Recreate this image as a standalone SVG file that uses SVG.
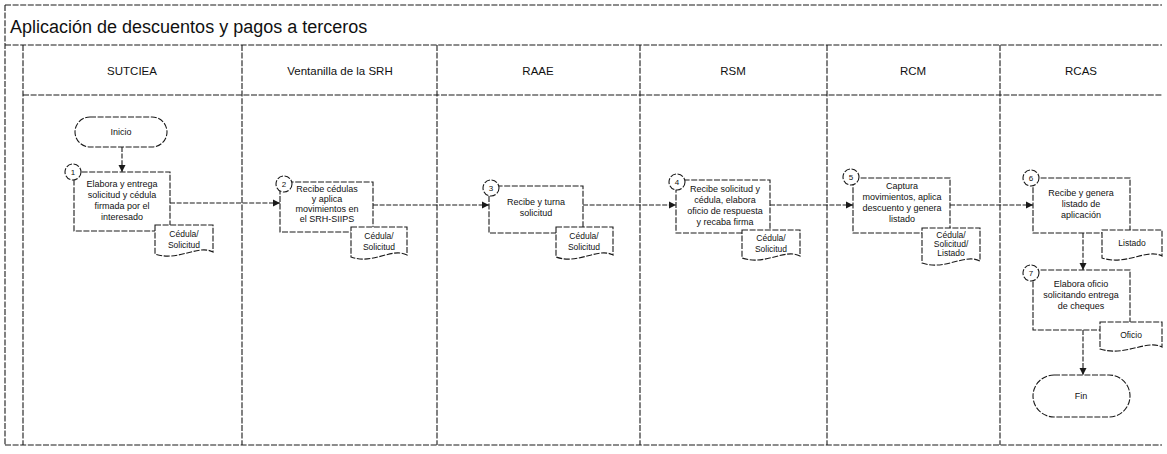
<svg xmlns="http://www.w3.org/2000/svg" width="1167" height="454" viewBox="0 0 1167 454">
<style>
.ln{stroke:#1a1a1a;stroke-width:1.1;fill:none;stroke-dasharray:6 1.6}
.sh{stroke:#1a1a1a;stroke-width:1.1;fill:#fff;stroke-dasharray:6 1.6}
.cn{stroke:#1a1a1a;stroke-width:1.1;fill:none;stroke-dasharray:5 1.6}
.t{font-family:"Liberation Sans",Arial,sans-serif;font-size:9px;fill:#111;text-anchor:middle}
.d{font-family:"Liberation Sans",Arial,sans-serif;font-size:8.5px;fill:#111;text-anchor:middle}
.h{font-family:"Liberation Sans",Arial,sans-serif;font-size:11.5px;fill:#111;text-anchor:middle}
.n{font-family:"Liberation Sans",Arial,sans-serif;font-size:8px;fill:#111;text-anchor:middle}
</style>
<defs>
<marker id="ah" markerWidth="8" markerHeight="8" refX="7" refY="4" orient="auto" markerUnits="userSpaceOnUse">
<path d="M0,0.5 L7,4 L0,7.5 Z" fill="#1a1a1a"/>
</marker>
</defs>
<rect width="1167" height="454" fill="#fff"/>
<g id="frame">
<path class="ln" d="M5,5 H1162 M5,45 H1162 M23,95 H1162 M5,5 V445 M5,445 H1162"/>
<path class="ln" d="M23,45 V445 M242,45 V445 M437,45 V445 M640,45 V445 M827,45 V445 M1000,45 V445"/>
<text x="10" y="33" style="font-family:'Liberation Sans',Arial,sans-serif;font-size:18px;fill:#111">Aplicación de descuentos y pagos a terceros</text>
<text class="h" x="132" y="75">SUTCIEA</text>
<text class="h" x="340" y="75">Ventanilla de la SRH</text>
<text class="h" x="538" y="75">RAAE</text>
<text class="h" x="733" y="75">RSM</text>
<text class="h" x="913" y="75">RCM</text>
<text class="h" x="1081" y="75">RCAS</text>
</g>
<g id="connectors">
<path class="cn" marker-end="url(#ah)" d="M122,147 V172"/>
<path class="cn" marker-end="url(#ah)" d="M170,203 H280"/>
<path class="cn" marker-end="url(#ah)" d="M373,205 H489"/>
<path class="cn" marker-end="url(#ah)" d="M583,205 H676"/>
<path class="cn" marker-end="url(#ah)" d="M770,205 H853"/>
<path class="cn" marker-end="url(#ah)" d="M950,205 H1033"/>
<path class="cn" marker-end="url(#ah)" d="M1083,233 V270"/>
<path class="cn" marker-end="url(#ah)" d="M1083,330 V375"/>
</g>
<g id="inicio">
<rect class="sh" x="75" y="117" width="92" height="30" rx="15"/>
<text class="t" x="121" y="135">Inicio</text>
</g>
<g id="step1">
<rect class="sh" x="74" y="172" width="96" height="59"/>
<circle class="sh" cx="73" cy="172" r="8"/><text class="n" x="73" y="175">1</text>
<text class="t" x="122" y="187">Elabora y entrega</text>
<text class="t" x="122" y="198">solicitud y cédula</text>
<text class="t" x="122" y="209">firmada por el</text>
<text class="t" x="122" y="220">interesado</text>
</g>
<g id="doc1">
<path class="sh" d="M155,225 H213 V252 C198,244 178,262 155,254 Z"/>
<text class="d" x="184" y="237">Cédula/</text>
<text class="d" x="184" y="248">Solicitud</text>
</g>
<g id="step2">
<rect class="sh" x="280" y="182" width="93" height="50"/>
<circle class="sh" cx="284" cy="184" r="8"/><text class="n" x="284" y="187">2</text>
<text class="t" x="327" y="192">Recibe cédulas</text>
<text class="t" x="327" y="202">y aplica</text>
<text class="t" x="327" y="212">movimientos en</text>
<text class="t" x="327" y="222">el SRH-SIIPS</text>
</g>
<g id="doc2">
<path class="sh" d="M351,227 H407 V255 C392,247 373,265 351,257 Z"/>
<text class="d" x="379" y="239">Cédula/</text>
<text class="d" x="379" y="250">Solicitud</text>
</g>
<g id="step3">
<rect class="sh" x="489" y="186" width="94" height="47"/>
<circle class="sh" cx="491" cy="188" r="8"/><text class="n" x="491" y="191">3</text>
<text class="t" x="536" y="205">Recibe y turna</text>
<text class="t" x="536" y="216">solicitud</text>
</g>
<g id="doc3">
<path class="sh" d="M556,227 H613 V255 C598,247 578,265 556,257 Z"/>
<text class="d" x="584" y="239">Cédula/</text>
<text class="d" x="584" y="250">Solicitud</text>
</g>
<g id="step4">
<rect class="sh" x="676" y="180" width="94" height="53"/>
<circle class="sh" cx="677" cy="182" r="8"/><text class="n" x="677" y="185">4</text>
<text class="t" x="725" y="192">Recibe solicitud y</text>
<text class="t" x="725" y="203">cédula, elabora</text>
<text class="t" x="725" y="214">oficio de respuesta</text>
<text class="t" x="725" y="225">y recaba firma</text>
</g>
<g id="doc4">
<path class="sh" d="M742,230 H800 V256 C785,248 765,266 742,258 Z"/>
<text class="d" x="771" y="241">Cédula/</text>
<text class="d" x="771" y="252">Solicitud</text>
</g>
<g id="step5">
<rect class="sh" x="853" y="178" width="97" height="55"/>
<circle class="sh" cx="851" cy="177" r="8"/><text class="n" x="851" y="180">5</text>
<text class="t" x="902" y="189">Captura</text>
<text class="t" x="902" y="200">movimientos, aplica</text>
<text class="t" x="902" y="211">descuento y genera</text>
<text class="t" x="902" y="222">listado</text>
</g>
<g id="doc5">
<path class="sh" d="M922,228 H980 V261 C965,253 945,271 922,263 Z"/>
<text class="d" x="951" y="238">Cédula/</text>
<text class="d" x="951" y="247">Solicitud/</text>
<text class="d" x="951" y="256">Listado</text>
</g>
<g id="step6">
<rect class="sh" x="1033" y="178" width="97" height="55"/>
<circle class="sh" cx="1031" cy="178" r="8"/><text class="n" x="1031" y="181">6</text>
<text class="t" x="1081" y="196">Recibe y genera</text>
<text class="t" x="1081" y="207">listado de</text>
<text class="t" x="1081" y="218">aplicación</text>
</g>
<g id="doc6">
<path class="sh" d="M1102,230 H1162 V256 C1147,248 1126,266 1102,258 Z"/>
<text class="d" x="1132" y="246">Listado</text>
</g>
<g id="step7">
<rect class="sh" x="1033" y="270" width="97" height="60"/>
<circle class="sh" cx="1031" cy="273" r="8"/><text class="n" x="1031" y="276">7</text>
<text class="t" x="1081" y="287">Elabora oficio</text>
<text class="t" x="1081" y="298">solicitando entrega</text>
<text class="t" x="1081" y="309">de cheques</text>
</g>
<g id="doc7">
<path class="sh" d="M1100,322 H1162 V347 C1147,339 1125,357 1100,349 Z"/>
<text class="d" x="1131" y="338">Oficio</text>
</g>
<g id="fin">
<rect class="sh" x="1033" y="375" width="97" height="42" rx="21"/>
<text class="t" x="1081" y="399">Fin</text>
</g>
</svg>
